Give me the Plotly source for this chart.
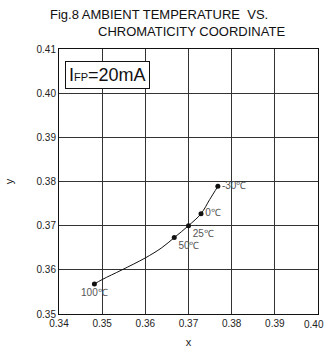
import plotly.graph_objects as go

# measured points
labels = ["100℃", "50℃", "25℃", "0℃", "-30℃"]
x_vals = [0.3482, 0.3667, 0.3700, 0.3729, 0.3768]
y_vals = [0.3568, 0.3673, 0.3700, 0.3727, 0.3789]
label_pos = ["bottom center", "bottom right", "bottom right", "middle right", "middle right"]

# fitted curve
curve_x = [0.3482, 0.3500, 0.3546, 0.3600, 0.3638, 0.3667, 0.3700, 0.3729, 0.3749, 0.3768]
curve_y = [0.3568, 0.3578, 0.3600, 0.3627, 0.3650, 0.3673, 0.3700, 0.3727, 0.3759, 0.3789]

x_ticks = [0.34, 0.35, 0.36, 0.37, 0.38, 0.39, 0.40]
x_ticktext = ["0.34", "0.35", "0.36", "0.37", "0.38", "0.39", "0.40"]
y_ticks = [0.35, 0.36, 0.37, 0.38, 0.39, 0.40, 0.41]
y_ticktext = ["0.35", "0.36", "0.37", "0.38", "0.39", "0.40", "0.41"]

FONT = "Liberation Sans, Arial"

fig = go.Figure()
fig.add_trace(go.Scatter(
    x=curve_x, y=curve_y, mode="lines",
    line=dict(color="#111", width=1, shape="spline", smoothing=1),
    hoverinfo="skip", showlegend=False,
))
fig.add_trace(go.Scatter(
    x=x_vals, y=y_vals, mode="markers+text",
    marker=dict(color="#111", size=5),
    text=labels, textposition=label_pos,
    textfont=dict(family=FONT, size=10, color="#555"),
    hoverinfo="skip", showlegend=False, cliponaxis=False,
))

axis_common = dict(
    showgrid=True, gridcolor="#333", gridwidth=1,
    showline=True, linecolor="#111", linewidth=1, mirror=True,
    ticks="", zeroline=False,
    tickfont=dict(family=FONT, size=10, color="#222"),
)
fig.update_xaxes(range=[0.34, 0.40], tickvals=x_ticks[:-1], ticktext=x_ticktext[:-1],
                 title=dict(text="x", font=dict(family=FONT, size=11, color="#222"), standoff=10),
                 **axis_common)
fig.update_yaxes(range=[0.35, 0.41], tickvals=y_ticks, ticktext=y_ticktext,
                 title=dict(text="y", font=dict(family=FONT, size=11, color="#222"), standoff=20),
                 **axis_common)

# last x tick label, kept inside the page edge
fig.add_annotation(
    xref="x", yref="paper", x=x_ticks[-1], y=0, xanchor="right", yanchor="top",
    xshift=8, yshift=-3,
    text=x_ticktext[-1], showarrow=False,
    font=dict(family=FONT, size=10, color="#222"),
)

fig.add_annotation(
    xref="paper", yref="paper", x=0.024, y=0.953, xanchor="left", yanchor="top",
    text="I<span style='font-size:11px'>FP</span>=20mA", showarrow=False,
    font=dict(family=FONT, size=18, color="#111"),
    bordercolor="#111", borderwidth=1, borderpad=3, bgcolor="white",
)
fig.add_annotation(
    xref="paper", yref="paper", x=0.387, y=1.0, xanchor="center", yanchor="bottom", yshift=25,
    text="Fig.8 AMBIENT TEMPERATURE  VS.", showarrow=False,
    font=dict(family=FONT, size=13, color="#111"),
)
fig.add_annotation(
    xref="paper", yref="paper", x=0.511, y=1.0, xanchor="center", yanchor="bottom", yshift=8,
    text="CHROMATICITY COORDINATE", showarrow=False,
    font=dict(family=FONT, size=13, color="#111"),
)

fig.update_layout(
    width=328, height=356,
    margin=dict(l=58, r=9, t=49, b=36),
    paper_bgcolor="white", plot_bgcolor="white",
)
fig.write_html(
    "out.html",
    config={"displayModeBar": False},
    post_script="document.body.style.margin='0';document.body.style.overflow='hidden';",
)
